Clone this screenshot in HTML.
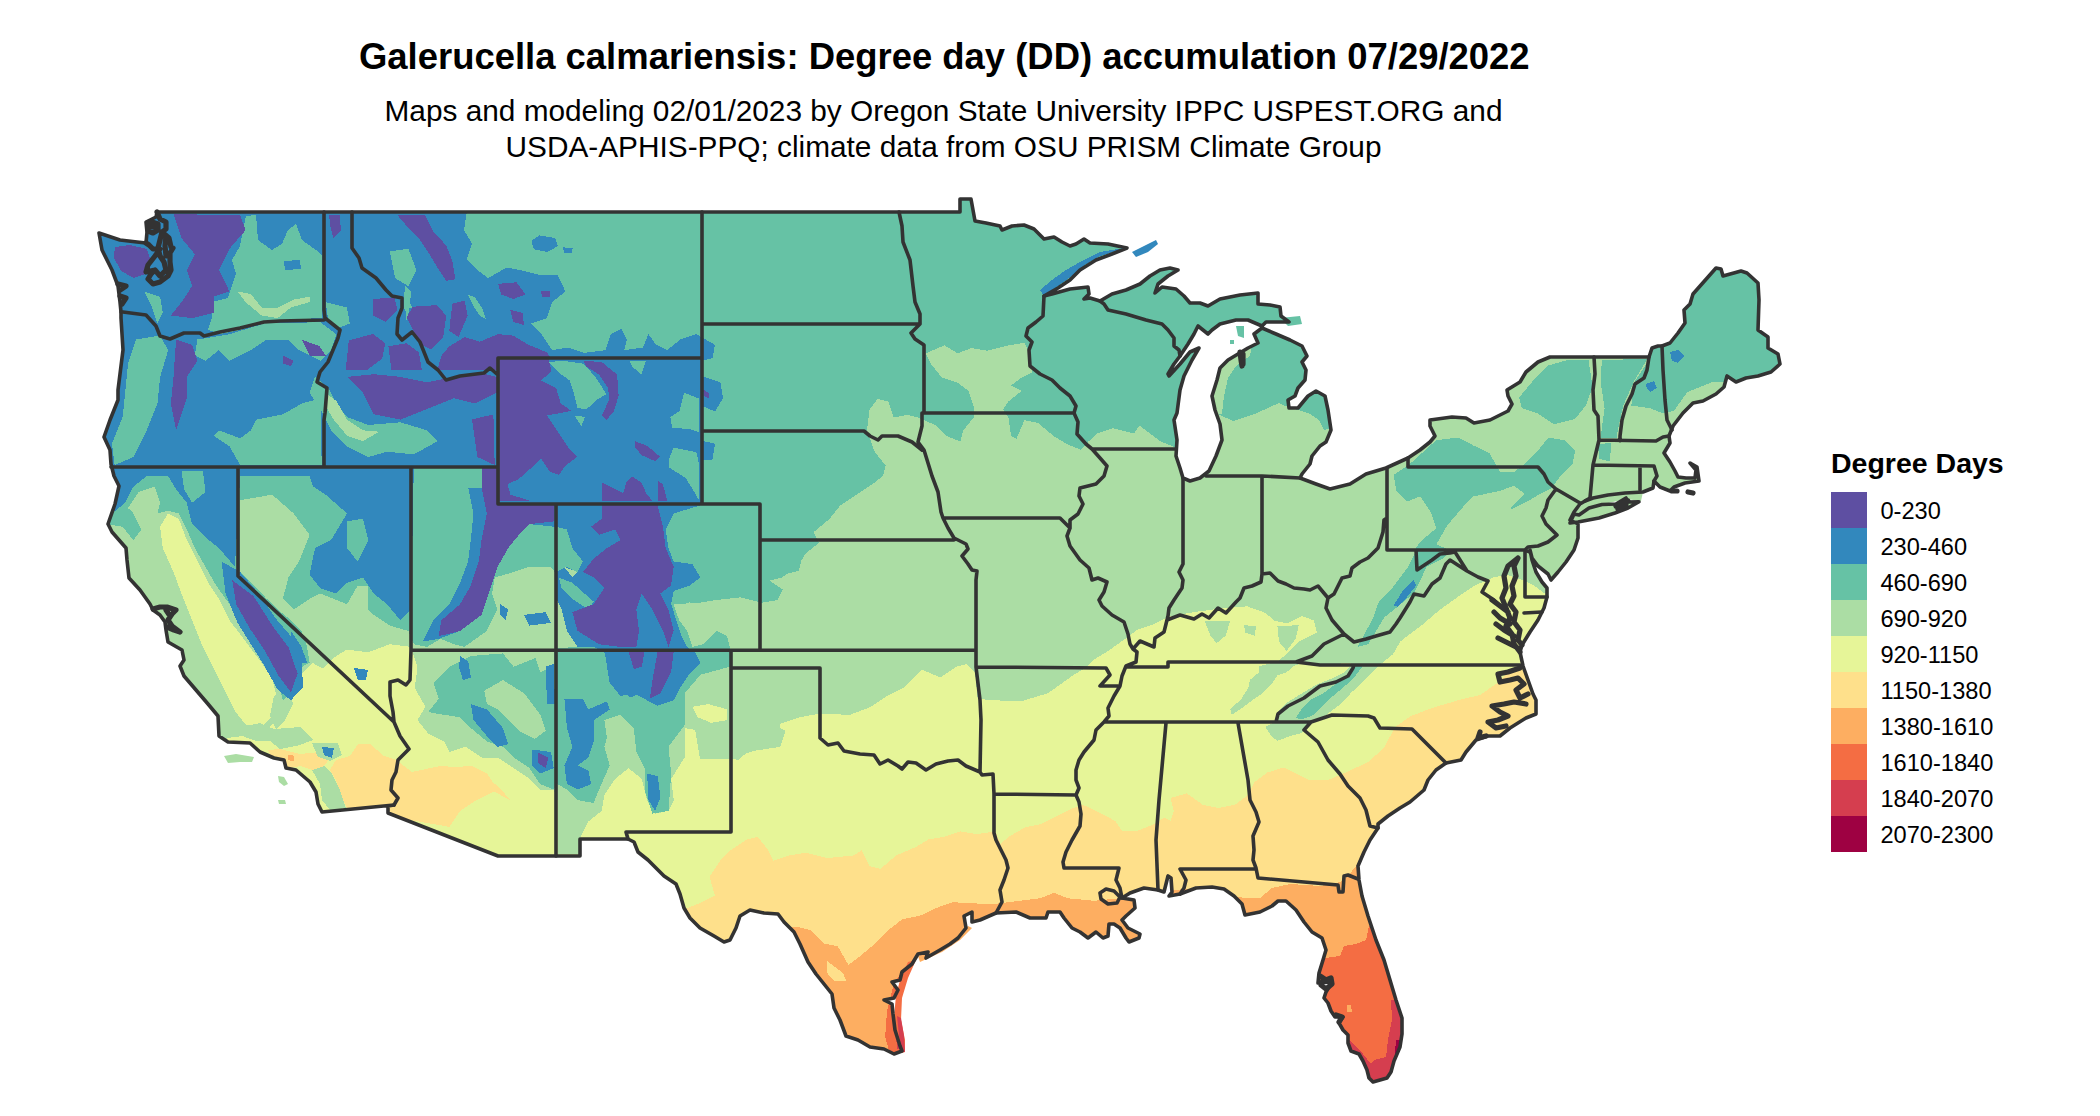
<!DOCTYPE html>
<html lang="en"><head><meta charset="utf-8"><title>Galerucella calmariensis: Degree day (DD) accumulation 07/29/2022</title>
<style>
html,body{margin:0;padding:0;background:#fff;}
body{width:2100px;height:1116px;position:relative;overflow:hidden;font-family:"Liberation Sans",sans-serif;color:#000;}
.title{position:absolute;left:0.8px;width:1887px;top:36px;text-align:center;font-weight:bold;font-size:36.45px;line-height:42px;white-space:nowrap;}
.sub{position:absolute;left:0;width:1887px;top:92.5px;text-align:center;font-size:29.8px;line-height:36px;white-space:nowrap;}
.lt{position:absolute;left:1831px;top:446.5px;font-weight:bold;font-size:28.5px;line-height:32px;white-space:nowrap;}
.sw{position:absolute;left:1831px;width:36px;height:36px;}
.ll{position:absolute;left:1880.5px;font-size:23.6px;line-height:36px;height:36px;white-space:nowrap;}
svg{position:absolute;left:0;top:0;}
</style></head><body>
<div class="title">Galerucella calmariensis: Degree day (DD) accumulation 07/29/2022</div>
<div class="sub">Maps and modeling 02/01/2023 by Oregon State University IPPC USPEST.ORG and<br>USDA-APHIS-PPQ; climate data from OSU PRISM Climate Group</div>
<div class="lt">Degree Days</div>
<div class="sw" style="top:492px;background:#5E4FA2"></div><div class="ll" style="top:493px">0-230</div>
<div class="sw" style="top:528px;background:#3288BD"></div><div class="ll" style="top:529px">230-460</div>
<div class="sw" style="top:564px;background:#66C2A5"></div><div class="ll" style="top:565px">460-690</div>
<div class="sw" style="top:600px;background:#ABDDA4"></div><div class="ll" style="top:601px">690-920</div>
<div class="sw" style="top:636px;background:#E6F598"></div><div class="ll" style="top:637px">920-1150</div>
<div class="sw" style="top:672px;background:#FEE08B"></div><div class="ll" style="top:673px">1150-1380</div>
<div class="sw" style="top:708px;background:#FDAE61"></div><div class="ll" style="top:709px">1380-1610</div>
<div class="sw" style="top:744px;background:#F46D43"></div><div class="ll" style="top:745px">1610-1840</div>
<div class="sw" style="top:780px;background:#D53E4F"></div><div class="ll" style="top:781px">1840-2070</div>
<div class="sw" style="top:816px;background:#9E0142"></div><div class="ll" style="top:817px">2070-2300</div>
<svg width="2100" height="1116" viewBox="0 0 2100 1116">
<defs><clipPath id="us"><path d="M157 212 L960 212 L960 199 L971 199 L973 210 L975 221 L986 223 L1000 226 L1002 230 L1012 226 L1024 225 L1034 229 L1040 235 L1044 239 L1054 237 L1062 242 L1070 246 L1076 244 L1084 239 L1090 243 L1108 244 L1127 248 L1112 254 L1096 260 L1080 270 L1070 280 L1058 288 L1044 296 L1052 294 L1070 289 L1088 287 L1089 294 L1084 299 L1090 298 L1100 301 L1112 294 L1126 290 L1140 284 L1150 276 L1160 270 L1170 268 L1178 270 L1168 276 L1158 284 L1155 293 L1162 287 L1176 289 L1184 296 L1190 303 L1200 303 L1208 306 L1220 299 L1240 295 L1258 293 L1258 304 L1270 305 L1280 307 L1281 316 L1289 322 L1266 322 L1262 326 L1248 320 L1236 320 L1220 324 L1212 330 L1208 334 L1198 326 L1194 334 L1188 344 L1180 356 L1174 364 L1168 374 L1169 376 L1180 364 L1190 352 L1199 348 L1192 360 L1184 376 L1180 390 L1177 413 L1174 420 L1177 440 L1176 456 L1180 468 L1183 478 L1190 481 L1200 478 L1209 471 L1216 456 L1222 440 L1220 424 L1215 410 L1212 396 L1217 380 L1220 368 L1228 360 L1238 354 L1248 348 L1258 343 L1254 334 L1262 328 L1276 334 L1290 340 L1302 346 L1307 356 L1302 362 L1306 370 L1305 380 L1298 388 L1295 396 L1288 400 L1289 408 L1298 408 L1308 396 L1316 391 L1325 396 L1328 410 L1331 430 L1326 442 L1320 446 L1312 456 L1310 464 L1302 474 L1300 478 L1316 484 L1330 489 L1350 484 L1366 474 L1386 468 L1408 458 L1420 450 L1430 442 L1435 436 L1430 426 L1430 420 L1452 417 L1466 418 L1474 423 L1490 420 L1500 415 L1508 411 L1512 404 L1508 396 L1507 390 L1520 382 L1526 372 L1538 362 L1550 357 L1649 357 L1652 348 L1658 346 L1662 346 L1670 343 L1678 333 L1685 323 L1684 310 L1690 304 L1693 294 L1716 268 L1721 269 L1723 276 L1741 271 L1747 273 L1758 283 L1759 300 L1758 330 L1768 337 L1768 348 L1778 354 L1780 364 L1771 372 L1758 376 L1746 378 L1736 382 L1727 376 L1724 387 L1716 394 L1703 401 L1693 403 L1683 413 L1673 426 L1669 436 L1670 443 L1664 453 L1670 462 L1675 471 L1678 477 L1686 478 L1695 478 L1696 470 L1690 463 L1697 467 L1699 481 L1685 483 L1674 487 L1670 491 L1660 487 L1654 481 L1653 488 L1643 492 L1625 493 L1608 495 L1593 498 L1585 501 L1580 504 L1574 512 L1570 520 L1578 524 L1578 538 L1574 550 L1566 562 L1558 572 L1551 580 L1548 574 L1538 566 L1532 558 L1530 550 L1532 560 L1536 572 L1542 582 L1547 588 L1547 597 L1544 608 L1538 620 L1530 632 L1522 645 L1520 652 L1523 666 L1528 680 L1533 694 L1536 700 L1536 714 L1526 718 L1510 728 L1500 736 L1488 736 L1476 740 L1466 752 L1461 760 L1446 763 L1436 770 L1428 780 L1424 790 L1410 802 L1400 808 L1388 816 L1378 824 L1378 828 L1370 840 L1364 852 L1358 866 L1359 880 L1362 896 L1368 916 L1376 940 L1384 960 L1390 980 L1396 1000 L1402 1018 L1402 1034 L1400 1047 L1394 1061 L1391 1072 L1387 1078 L1380 1080 L1373 1082 L1369 1078 L1367 1070 L1363 1061 L1359 1054 L1351 1051 L1348 1043 L1348 1035 L1343 1030 L1339 1023 L1343 1017 L1335 1017 L1331 1011 L1328 1003 L1324 998 L1326 992 L1332 982 L1318 983 L1319 973 L1323 960 L1326 950 L1322 938 L1312 932 L1304 922 L1296 910 L1286 901 L1278 901 L1272 906 L1260 912 L1245 915 L1242 904 L1234 896 L1224 889 L1212 887 L1196 888 L1180 894 L1169 896 L1172 892 L1171 878 L1168 876 L1164 892 L1158 890 L1144 888 L1130 893 L1122 898 L1134 900 L1135 908 L1126 916 L1122 920 L1128 928 L1140 934 L1139 938 L1129 942 L1126 938 L1120 928 L1114 924 L1109 924 L1108 936 L1103 938 L1096 932 L1088 938 L1080 932 L1072 928 L1064 918 L1060 912 L1048 912 L1046 918 L1030 918 L1016 912 L996 913 L980 920 L972 922 L972 912 L964 916 L966 928 L958 938 L950 944 L940 950 L926 958 L928 952 L918 954 L912 964 L902 972 L900 980 L892 982 L898 990 L894 998 L884 1000 L892 1004 L893 1014 L895 1030 L900 1046 L902 1051 L894 1054 L884 1049 L870 1047 L858 1040 L846 1036 L840 1020 L834 1008 L832 994 L824 984 L816 974 L808 962 L800 944 L794 932 L784 922 L778 914 L764 913 L750 910 L740 916 L736 928 L730 940 L724 942 L714 936 L700 928 L690 918 L684 908 L680 894 L676 884 L664 876 L656 868 L648 860 L638 852 L634 842 L628 839 L580 839 L580 856 L498 856 L388 813 L388 806 L394 805 L322 812 L318 804 L316 792 L310 782 L296 770 L286 768 L284 760 L274 758 L260 752 L250 743 L228 742 L219 736 L218 716 L208 704 L196 690 L184 676 L180 666 L184 660 L182 650 L168 642 L166 630 L165 622 L160 615 L153 610 L150 604 L140 590 L129 578 L127 560 L126 548 L112 532 L108 524 L115 504 L119 486 L114 476 L111 464 L110 450 L104 437 L110 420 L118 400 L118 390 L123 350 L121 318 L121 312 L120 302 L118 286 L112 270 L102 250 L99 233 L120 240 L137 242 L146 243 L147 232 L146 222 L152 219 L156 217Z M1574 514 L1579 515 L1589 508 L1602 504.5 L1616 504 L1626 498 L1628 502 L1639 501.7 L1628 508 L1615 513 L1599 518 L1578 522 L1570 523Z"/></clipPath></defs>
<g clip-path="url(#us)" shape-rendering="crispEdges">
<rect x="90" y="190" width="1710" height="910" fill="#E6F598"/>
<path fill="#FEE08B" d="M685.5 908.9 L698.9 903.5 L714.9 895.5 L709.5 876.8 L720.2 860.8 L730.9 850.1 L746.9 839.4 L757.6 836.8 L768.3 850.1 L773.6 860.8 L789.6 855.4 L805.7 852.8 L827 858.1 L853.7 855.4 L861.7 850.1 L869.7 866.1 L880.4 868.8 L896.4 855.4 L915.1 847.4 L928.5 839.4 L944.5 836.8 L960.5 831.4 L976.6 834.1 L995.2 831.4 L1000.5 843.6 L1008.6 837 L1024.8 827.4 L1041 824 L1057 816 L1073 808 L1083 804.8 L1096 811 L1105.7 816 L1115.4 821 L1122 830.7 L1138 830.7 L1154.3 824 L1164 817.7 L1170.5 821 L1173.7 811 L1170.5 798 L1186.7 793.4 L1202.9 804.8 L1219 808 L1235 804.8 L1248 795 L1254.7 782 L1267.6 772.4 L1283.8 767.5 L1293 772 L1309 780 L1328 780 L1347 772 L1368 762 L1384 748 L1395 727 L1411 716 L1432 708 L1459 700 L1480 695 L1496 684 L1507 673 L1520 668 L1545 660 L1620 700 L1620 1110 L600 1110 L600 915Z"/>
<path fill="#FDAE61" d="M787 926.2 L800.3 927.5 L811 930.2 L824.4 943.6 L837.7 946.2 L848.4 964.9 L859.1 956.9 L875.1 943.6 L888.4 930.2 L901.8 919.5 L920.5 915.5 L933.8 908.9 L952.5 902.2 L976.6 903.5 L997.9 903.5 L1019.3 900.8 L1040.6 898.2 L1054 892.8 L1067.3 898.2 L1094 900.8 L1119.9 898.2 L1160 891 L1200 888 L1235 897 L1248 898 L1260 898 L1272 888 L1290 884 L1320 886 L1340 882 L1348 876 L1356 866 L1362 856 L1380 848 L1500 900 L1500 1110 L760 1110 L760 925Z"/>
<path fill="#FEE08B" d="M827 960.9 L843 972.9 L846.2 980.9 L835 981.5 L827 972.9Z M850.5 928.9 L856.9 929.7 L854.3 940.9 L851.1 938.2Z"/>
<path fill="#F46D43" d="M916.5 955.6 L929.8 960.9 L915.1 983.6 L904.5 1005 L900.5 1026.3 L905.8 1054.4 L891.1 1058.4 L885.2 1037 L887.1 1010.3 L893.8 983.6 L904.5 967.6Z M1318 959 L1340 956 L1344 946 L1356 944 L1366 940 L1369 926 L1374 922 L1382 950 L1410 1000 L1420 1100 L1330 1100 L1316 990Z"/>
<path fill="#D53E4F" d="M894.3 1010.3 L899.7 1015.7 L904.5 1049 L897 1049Z M1391 1000 L1392 1020 L1388 1040 L1386 1057 L1374 1060 L1371 1064 L1363 1054 L1355 1046 L1349 1040 L1340 1045 L1360 1095 L1420 1095 L1420 1000Z"/>
<path fill="#9E0142" d="M1396 1040 L1410 1040 L1410 1090 L1376 1090 L1380 1084 L1388 1078 L1394 1065Z"/>
<path fill="#FDAE61" d="M1347 1005 L1351 1005 L1352 1012 L1347 1012Z"/>
<path fill="#ABDDA4" d="M700 758.9 L732 758.9 L753.4 750.9 L780.1 746.9 L785.4 730.9 L774.8 725.6 L798.8 717.5 L820.2 713.5 L849.5 714.9 L870.9 706.9 L886.9 696.2 L902.9 688.2 L913.6 677.5 L921.6 669.5 L940.3 677.5 L956.3 666.8 L967 664.1 L975 672.1 L977.7 698.9 L993.7 700.2 L1020.4 701.5 L1047.1 693.5 L1055.1 688.2 L1073.8 674.8 L1087.2 666.8 L1095.2 658.8 L1108.5 650.8 L1127.2 637.4 L1137.9 629.4 L1153.9 624.1 L1170 616.1 L1194 612.1 L1223.4 608.1 L1259.9 605.4 L1244 605.2 L1265.3 612.8 L1274.4 620.5 L1286.6 623.5 L1301.8 615.9 L1314 620.5 L1317 632.6 L1298.8 641.8 L1286.6 654 L1277.5 661.6 L1259.2 666.1 L1259.2 672.2 L1250 679.8 L1248.5 687.5 L1240.9 699.6 L1230.3 708.8 L1231.8 714.9 L1240.9 708.8 L1253.1 699.6 L1262.2 693.5 L1271.4 684.4 L1277.5 675.3 L1286.6 672.2 L1295.7 664.6 L1314 663.9 L1332.3 663.9 L1350.5 663.1 L1350.5 666.1 L1344.5 672.2 L1332.3 678.3 L1317 684.4 L1301.8 693.5 L1286.6 702.7 L1277.5 711.8 L1274.4 722.5 L1265.3 727 L1271.4 736.2 L1277.5 740.8 L1289.6 736.2 L1301.8 733.1 L1311 724 L1314 722.5 L1326.2 714.9 L1338.4 705.7 L1350.5 693.5 L1365.8 678.3 L1378 666.1 L1393.2 654 L1400.2 641.5 L1421.6 625.4 L1440.3 609.4 L1459 596.1 L1475 585.4 L1493.7 577.4 L1507 574.7 L1523 580.1 L1533.7 585.4 L1544.4 593.4 L1560.4 593.4 L1800 590 L1800 190 L690 190 L690 700Z"/>
<path fill="#ABDDA4" d="M1204.4 620.5 L1230.3 620.5 L1225.7 635.7 L1216.5 643.3 L1210.5 635.7Z M1244 625 L1256.1 626.5 L1254.6 635.7 L1245.5 632.6Z M1277.5 626.5 L1298.8 625 L1295.7 638.7 L1286.6 650.9 L1279 641.8Z"/>
<path fill="#ABDDA4" d="M60 180 L780 180 L780 745 L753.9 746.8 L737.9 760.2 L729.9 757.5 L729.9 741.5 L716.6 736.1 L700.5 730.8 L684.5 728.1 L684.5 757.5 L671.2 778.9 L673.8 800.2 L668.5 810.9 L655.1 813.6 L647.1 800.2 L641.8 778.9 L628.4 768.2 L615.1 778.9 L604.4 794.9 L601.7 810.9 L588.4 821.6 L580.4 837.6 L580.4 853.6 L557.7 853.6 L557.7 800.2 L553.7 789.5 L540.3 789.5 L529.6 778.9 L513.6 768.2 L497.6 757.5 L481.6 757.5 L465.6 746.8 L449.5 752.1 L444.2 741.5 L428.2 733.5 L417.5 720.1 L425.5 706.8 L414.8 688.1 L417.5 666.7 L412.1 650.7 L411.1 646.9 L389.7 644.2 L368.4 652.3 L347 649.6 L333.7 657.6 L323 668.3 L312.3 662.9 L301.6 673.6 L293.6 689.6 L285.6 705.7 L277.6 719 L266.9 729.7 L250.9 735 L229.5 737.7 L213.5 743 L60 760Z"/>
<path fill="#E6F598" d="M168.1 513.4 L178.8 518.7 L186.8 540.1 L197.5 561.5 L208.2 582.8 L218.9 598.9 L229.5 620.2 L245.6 641.6 L261.6 662.9 L272.3 679 L277.6 700.3 L272.3 716.3 L261.6 727 L245.6 724.4 L234.9 711 L224.2 689.6 L213.5 668.3 L202.8 646.9 L192.1 620.2 L181.5 593.5 L173.5 572.1 L162.8 548.1 L160.1 526.8Z M692.5 706.8 L708.5 704.1 L727.2 709.4 L727.2 720.1 L711.2 722.8 L697.9 717.4Z"/>
<path fill="#FEE08B" d="M268 750 L280 749 L300 754 L320 752 L330 758 L324 766 L312 770 L300 766 L290 768 L280 760 L272 758Z M336 760 L350 756 L358 744 L370 744 L384 756 L396 760 L412 772 L440 766 L470 768 L490 780 L500 788 L510 800 L449.5 768.2 L470.9 765.5 L486.9 773.5 L497.6 789.5 L476.2 800.2 L460.2 810.9 L449.5 826.9 L388.1 816.2 L388 812 L348 809 L340 796 L336 780 L330 770Z"/>
<path fill="#FDAE61" d="M288 755 L294.4 755.6 L293.6 761.2 L288 760Z"/>
<path fill="#ABDDA4" d="M312 770 L324 766 L332 774 L340 790 L346 808 L330 810 L322 800 L320 784Z M312 743 L338 743 L342 755 L330 761 L318 757Z M238 728 L260 723 L274 729 L300 727 L313 740 L300 745 L280 749 L270 741 L256 741 L244 737Z M274 696 L288 686 L293 704 L285 720 L276 729 L270 716Z"/>
<path fill="#66C2A5" d="M700 602.7 L716 600.1 L740.1 597.4 L761.4 602.7 L777.4 600.1 L782.8 589.4 L766.8 578.7 L798.8 570.7 L801.5 560 L760.1 583 L781.5 577.7 L797.5 567 L805.5 553.7 L818.9 543 L813.5 532.3 L829.5 519 L840.2 505.6 L856.2 494.9 L872.3 484.2 L882.9 476.2 L885.6 465.6 L874.9 452.2 L866.9 430.8 L869.6 409.5 L877.6 398.8 L888.3 401.5 L893.6 417.5 L907 414.8 L917.7 417.5 L936.3 425.5 L947 436.2 L960.4 441.5 L963 430.8 L973.7 417.5 L973.7 406.8 L968.4 390.8 L957.7 382.8 L941.7 377.4 L931 364.1 L925.7 353.4 L944.4 345.4 L957.7 353.4 L971.1 348.1 L987.1 350.7 L1008.4 345.4 L1024.5 342.7 L1029.8 353.4 L1032.5 372.1 L1021.8 377.4 L1011.1 385.4 L1021.8 390.8 L1008.4 401.5 L1003.1 409.5 L1008.4 417.5 L1011.1 436.2 L1016.4 438.9 L1024.5 420.2 L1037.8 422.8 L1053.8 436.2 L1067.2 444.2 L1080.5 449.5 L1088.5 441.5 L1096.6 433.5 L1112.6 428.2 L1133.9 433.5 L1139.3 425.5 L1150 433.5 L1160.6 441.5 L1174 446.9 L1200 447 L1222 366 L1226 380 L1222 400 L1218 414 L1233 421 L1257 413 L1279 403 L1290 408 L1298 410 L1310 414 L1319 420 L1324 430 L1340 426 L1340 190 L690 190 L690 603Z"/>
<path fill="#66C2A5" d="M1393.6 474.9 L1409.6 464.2 L1436.3 440.2 L1457.7 437.5 L1473.7 445.6 L1489.7 453.6 L1500.4 472.3 L1513.8 472.3 L1524.5 464.2 L1537.8 450.9 L1548.5 437.5 L1564.5 440.2 L1575.2 450.9 L1572.5 464.2 L1559.2 477.6 L1551.2 488.3 L1540.5 493.6 L1527.1 501.6 L1511.1 509.6 L1511.1 507 L1524.5 493.6 L1513.8 485.6 L1500.4 490.9 L1473.7 496.3 L1463 507 L1447 525.7 L1436.3 544.4 L1428.3 552.4 L1415 549.7 L1420.3 541.7 L1436.3 528.3 L1431 512.3 L1420.3 496.3 L1407 501.6 L1396.3 490.9Z M1519.1 397.5 L1532.5 381.5 L1548.5 365.4 L1567.2 360.1 L1588.5 360.1 L1592.6 386.8 L1585.9 405.5 L1575.2 418.9 L1553.8 424.2 L1537.8 413.5 L1521.8 408.2Z M1601.9 360.1 L1647.3 358.8 L1633.9 381.5 L1623.3 405.5 L1617.9 429.5 L1616.6 437.5 L1600.6 437.5 L1604.6 408.2 L1600.6 381.5Z M1646 344.1 L1650 358.8 L1633.9 382.8 L1631.3 405.5 L1650 408.2 L1663.3 413.5 L1674 410.8 L1687.3 392.1 L1700.7 386.8 L1714 381.5 L1727.4 382.8 L1735.4 394.8 L1794.2 394.8 L1794.2 266.6 L1700.7 266.6 L1674 333.4Z M1597.9 444.2 L1611.2 442.9 L1609.9 461.6 L1599.2 458.9Z"/>
<path fill="#66C2A5" d="M1357.5 646.8 L1373.5 617.4 L1378.9 601.4 L1392.2 588.1 L1408.2 566.7 L1416.2 550.7 L1426.9 540 L1450.9 550.7 L1442.9 558.7 L1426.9 566.7 L1413.6 593.4 L1397.5 606.8 L1384.2 617.4 L1368.2 644.1Z M1353.6 664.6 L1362.7 666.1 L1353.6 678.3 L1341.4 689 L1332.3 696.6 L1323.1 705.7 L1314 714.9 L1301.8 719.4 L1295.7 717.9 L1301.8 708.8 L1311 699.6 L1323.1 693.5 L1335.3 684.4 L1346 675.3 L1352.1 669.2Z"/>
<path fill="#66C2A5" d="M106.7 524.1 L122.7 526.8 L133.4 540.1 L141.4 529.4 L133.4 513.4 L128.1 508.1 L138.7 492 L154.8 486.7 L160.1 502.7 L157.4 513.4 L168.1 510.7 L178.8 513.4 L186.8 529.4 L194.8 548.1 L205.5 566.8 L216.2 585.5 L229.5 604.2 L240.2 620.2 L250.9 636.2 L266.9 657.6 L277.6 679 L282.9 700.3 L293.6 689.6 L299 668.3 L309.6 662.9 L307 646.9 L301.6 630.9 L290.9 620.2 L277.6 609.5 L266.9 598.9 L250.9 582.8 L240.2 572.1 L240.2 500.1 L272.3 494.7 L293.6 513.4 L309.6 534.8 L299 561.5 L288.3 577.5 L282.9 598.9 L293.6 609.5 L309.6 598.9 L320.3 593.5 L347 604.2 L357.7 585.5 L368.4 585.5 L368.4 609.5 L373.7 614.9 L389.7 625.6 L408.4 630.9 L413.8 644.2 L427.1 646.9 L440.5 638.9 L453.8 644.2 L464.5 646.9 L486.8 630.9 L497.5 609.5 L492.1 593.5 L494.8 577.5 L513.5 572.1 L529.5 566.8 L550.9 566.8 L554.9 572.1 L558.9 577.5 L572.3 582.8 L593.6 601.5 L588.3 609.5 L572.3 604.2 L566.9 620.2 L572.3 630.9 L577.6 646.9 L554.9 648.3 L553.7 653.4 L540.3 656 L513.6 666.7 L502.9 653.4 L470.9 656 L449.5 666.7 L433.5 682.7 L438.9 698.7 L428.2 712.1 L444.2 714.8 L460.2 717.4 L470.9 728.1 L486.9 741.5 L502.9 746.8 L513.6 757.5 L529.6 768.2 L540.3 784.2 L553.7 789.5 L557.7 784.2 L567 789.5 L577.7 800.2 L593.7 802.9 L599.1 789.5 L609.7 765.5 L604.4 746.8 L609.7 728.1 L620.4 720.1 L631.1 741.5 L644.5 768.2 L644.5 789.5 L652.5 813.6 L668.5 810.9 L671.2 773.5 L668.5 746.8 L684.5 725.4 L684.5 693.4 L700.5 674.7 L729.9 666.7 L729.9 650.7 L729.8 646.9 L727.1 636.2 L716.4 630.9 L703.1 644.2 L692.4 646.9 L687.1 630.9 L679.1 620.2 L673.7 604.2 L684.4 604.2 L700.4 598.9 L721.8 596.2 L722 180 L60 180 L60 520Z"/>
<path fill="#ABDDA4" d="M484.2 690.7 L502.9 680.1 L524.3 693.4 L540.3 714.8 L545.7 730.8 L535 738.8 L519 730.8 L508.3 720.1 L497.6 709.4 L486.9 704.1Z M604.4 720.1 L620.4 714.8 L633.8 728.1 L636.4 752.1 L628.4 768.2 L617.8 773.5 L609.7 757.5Z M535 656 L553.7 653.4 L553.7 666.7 L540.3 672Z M564.2 566.8 L577.6 572.1 L572.3 577.5Z M237.5 291.5 L250.9 294.1 L261.6 307.5 L277.6 307.5 L293.6 299.5 L309.6 296.8 L309.6 302.1 L290.9 307.5 L277.6 318.2 L261.6 315.5 L245.6 302.1Z M325.7 392.9 L336.3 400.9 L347 419.6 L363 430.3 L379.1 431.7 L363 441 L347 435.7 L333.7 419.6 L325.7 406.3Z"/>
<path fill="#ABDDA4" d="M1218 360 L1232 352 L1252 346 L1250 356 L1236 366 L1228 378 L1224 396 L1222 414 L1212 414 L1212 396 L1216 380Z"/>
<path fill="#3288BD" d="M1393.5 605.4 L1402.9 590.7 L1413.6 580.1 L1416.2 585.4 L1405.6 598.7 L1397.5 606.8Z"/>
<path fill="#3288BD" d="M60 180 L466.7 212.7 L464 230.1 L472 243.4 L466.7 259.4 L477.4 270.1 L488.1 278.1 L506.8 267.4 L520.1 270.1 L541.5 275.4 L557.5 275.4 L565.5 291.5 L552.1 302.1 L546.8 318.2 L530.8 323.5 L541.5 334.2 L552.1 350.2 L568.2 347.5 L584.2 352.9 L605.6 350.2 L610.9 334.2 L621.6 328.9 L626.9 339.5 L624.2 350.2 L642.9 347.5 L648.3 334.2 L656.3 344.9 L667 350.2 L680.3 339.5 L696.3 334.2 L715 344.9 L712.4 358.2 L701.7 360.9 L703 376.9 L720.4 382.3 L723 398.3 L715 411.6 L703 406.3 L703 441 L715 443.7 L712.4 459.7 L703 459.7 L700.4 505.4 L673.7 513.4 L665.7 529.4 L668.4 548.1 L673.7 561.5 L692.4 564.1 L700.4 577.5 L689.7 585.5 L673.7 590.8 L671.1 604.2 L676.4 620.2 L681.7 636.2 L687.1 646.9 L695.1 652.3 L700.4 662.9 L689.7 673.6 L679.1 689.6 L673.7 700.3 L657.7 705.7 L647 700.3 L641.7 692.3 L631 697.7 L620.3 689.6 L609.6 673.6 L604.3 652.3 L593.6 646.9 L577.6 646.9 L566.9 630.9 L561.6 609.5 L556.2 598.9 L554.9 526.8 L529.5 524.1 L518.9 534.8 L508.2 548.1 L497.5 566.8 L492.1 582.8 L486.8 598.9 L481.5 614.9 L460.1 630.9 L438.7 638.9 L422.7 641.6 L433.4 620.2 L449.4 604.2 L460.1 582.8 L468.1 561.5 L470.8 540.1 L473.5 513.4 L468.1 486.7 L470.8 468 L413.8 468 L411.1 609.5 L400.4 620.2 L387.1 604.2 L373.7 593.5 L363 577.5 L347 582.8 L336.3 593.5 L320.3 588.2 L309.6 574.8 L315 548.1 L331 540.1 L347 513.4 L325.7 494.7 L309.6 484 L282.9 476 L240.2 476 L234.9 566.8 L218.9 548.1 L205.5 537.4 L192.1 524.1 L186.8 502.7 L176.1 489.4 L168.1 476 L146.8 476 L133.4 486.7 L125.4 502.7 L112 513.4 L96 524.1Z M221.5 561.5 L240.2 572.1 L258.9 593.5 L274.9 617.5 L290.9 636.2 L301.6 657.6 L303 687 L290.9 700.3 L277.6 689.6 L264.2 665.6 L250.9 644.2 L237.5 622.9 L225.5 593.5Z"/>
<path fill="#66C2A5" d="M246 216 L256 215 L258 240 L272 250 L282 244 L288 230 L296 224 L302 240 L316 250 L322 256 L322 318 L300 319 L280 320 L260 324 L240 330 L220 334 L208 330 L212 318 L212 302 L228 298 L232 286 L236 274 L232 260 L240 246Z M144.1 291.5 L160.1 296.8 L162.8 312.8 L157.4 323.5 L152.1 307.5Z M136.1 339.5 L160.1 335.5 L168.1 350.2 L160.1 376.9 L157.4 403.6 L146.8 430.3 L133.4 457 L114.7 465 L112 443.7 L122.7 417 L125.4 390.3 L128.1 363.6Z M197.5 339.5 L229.5 334.2 L264.2 323.5 L320.3 322.2 L336.3 334.2 L331 350.2 L320.3 360.9 L299 350.2 L288.3 339.5 L266.9 339.5 L250.9 350.2 L229.5 360.9 L218.9 350.2 L205.5 360.9 L194.8 355.6Z M315 376.9 L328.3 387.6 L336.3 403.6 L347 417 L368.4 425 L400.4 422.3 L427.1 430.3 L437.8 441 L413.8 454.4 L387.1 451.7 L368.4 457 L347 446.3 L331 430.3 L320.3 409 L309.6 392.9Z M256.2 419.6 L282.9 414.3 L301.6 403.6 L320.3 398.3 L321.7 465 L240.2 465 L229.5 446.3 L213.5 435.7 L218.9 430.3 L240.2 438.3 L250.9 430.3Z M325.7 302.1 L347 307.5 L349.7 323.5 L336.3 328.9 L328.3 320.8Z M389.7 251.4 L408.4 248.7 L416.4 270.1 L408.4 286.1 L395.1 278.1Z M404.4 291.5 L412.4 307.5 L404.4 308.8Z M440 467.7 L493.4 467.7 L493.4 488 L440 488Z M556.2 526.8 L566.9 529.4 L572.3 548.1 L582.9 561.5 L577.6 572.1 L566.9 566.8 L556.2 572.1Z M558.9 577.5 L572.3 582.8 L593.6 601.5 L588.3 609.5 L572.3 598.9 L561.6 588.2Z M181.5 470.7 L202.8 470.7 L205.5 492 L192.1 502.7 L184.1 489.4Z M266.9 476 L309.6 476 L315 492 L293.6 494.7 L272.3 492Z M347 521.4 L363 518.7 L368.4 540.1 L357.7 561.5 L347 548.1Z"/>
<path fill="#66C2A5" d="M548.6 362.2 L562.3 360.7 L583.6 363.7 L595.8 377.4 L606.4 394.2 L595.8 400.3 L586.6 409.4 L577.5 407.9 L574.5 395.7 L569.9 380.5 L559.2 372.9Z M574.5 415.5 L585.1 417 L581.3 426.2Z M629.3 360.7 L646.1 360.7 L641.5 374.4 L632.3 366.8Z M684.1 392.7 L699.4 398.8 L699.4 432.3 L690.2 429.2 L672 427.7 L670.4 417 L679.6 410.9Z M673.5 447.5 L696.3 452.1 L699.4 465.8 L699.4 500.8 L693.3 490.2 L685.7 478 L668.9 467.3 L668.9 459.7Z"/>
<path fill="#66C2A5" d="M394.5 251.8 L406.7 250.3 L409.7 261 L405.1 271.6 L397.5 267Z M405.1 285.3 L411.2 291.4 L409.7 306.7 L406.7 321.9 L405.1 306.7Z M467.6 294.5 L475.2 297.5 L482.9 309.7 L485.9 318.9 L479.8 315.8 L473.7 306.7Z"/>
<path fill="#ABDDA4" d="M237.5 291.5 L250.9 294.1 L261.6 307.5 L277.6 307.5 L293.6 299.5 L309.6 296.8 L309.6 302.1 L290.9 307.5 L277.6 318.2 L261.6 315.5 L245.6 302.1Z M325.7 392.9 L336.3 400.9 L347 419.6 L363 430.3 L379.1 431.7 L363 441 L347 435.7 L333.7 419.6 L325.7 406.3Z M564.2 566.8 L577.6 572.1 L572.3 577.5Z"/>
<path fill="#3288BD" d="M284 261 L300 260 L301 269 L285 270Z"/>
<path fill="#3288BD" d="M531.3 240.7 L539.3 235.4 L555.3 238.1 L558 246.1 L547.3 251.9 L533.9 249.3Z M563.3 247.4 L572.7 248.2 L571.9 253 L563.8 252.5Z M704.4 376.9 L720.4 382.3 L723 398.3 L715 411.6 L704.4 406.3Z M460.2 656 L468.2 661.4 L470.9 677.4 L462.9 680.1 L458.9 666.7Z M470.9 704.1 L486.9 709.4 L502.9 728.1 L508.3 744.1 L497.6 746.8 L486.9 736.1 L473.6 720.1Z M532.3 749.5 L551 752.1 L553.7 768.2 L540.3 773.5 L532.3 765.5Z M545.7 666.7 L553.7 664 L555 704.1 L547 704.1Z M604.4 650.7 L689.9 650.7 L687.2 674.7 L668.5 688.1 L655.1 704.1 L644.5 698.7 L633.8 693.4 L620.4 696.1 L609.7 682.7Z M564.4 698.7 L583 698.7 L588.4 709.4 L607.1 701.4 L609.7 709.4 L593.7 720.1 L593.7 741.5 L588.4 757.5 L577.7 765.5 L588.4 770.8 L591.1 784.2 L577.7 789.5 L567 784.2 L564.4 765.5 L572.4 746.8 L567 728.1Z M647.1 773.5 L657.8 776.2 L660.5 797.5 L655.1 810.9 L648.5 800.2Z M290.9 630.9 L301.6 646.9 L307 662.9 L299 662.9 L290.9 646.9Z M524.2 614.9 L545.6 612.2 L550.9 622.9 L529.5 625.6Z M500.2 604.2 L508.2 609.5 L505.5 620.2 L500.2 614.9Z M322 747 L334 748 L332 758 L324 755Z M354 668 L368 670 L366 680 L358 680Z M1044 296 L1058 286 L1072 276 L1086 264 L1100 256 L1124 248 L1100 252 L1080 262 L1066 270 L1052 280 L1040 290Z"/>
<path fill="#3288BD" d="M1670 352 L1678 350 L1684 356 L1678 363 L1672 361Z M1646 384 L1654 381 L1657 388 L1650 392 L1647 389Z"/>
<path fill="#5E4FA2" d="M115 247 L130 245 L147 249 L150 259 L147.6 273 L134 278 L121 271 L113.6 257Z M173.5 214 L240.2 215.4 L245.6 230.1 L229.5 248.7 L218.9 270.1 L229.5 291.5 L213.5 296.8 L213.5 312.8 L192.1 318.2 L170.8 315.5 L181.5 302.1 L192.1 286.1 L186.8 270.1 L194.8 254.1 L181.5 238.1Z M176.1 339.5 L192.1 344.9 L197.5 360.9 L186.8 376.9 L186.8 398.3 L176.1 430.3 L170.8 403.6 L173.5 376.9Z M301.6 339.5 L320.3 347.5 L325.7 355.6 L309.6 355.6Z M282.9 355.6 L293.6 360.9 L290.9 366.2 L282.9 363.6Z M472 419.6 L493.4 414.3 L494.7 465 L477.4 457Z M481.5 468 L497.5 468 L497.5 502.7 L553.6 504.1 L553.6 521.4 L529.5 524.1 L518.9 534.8 L508.2 548.1 L497.5 566.8 L492.1 582.8 L486.8 598.9 L481.5 614.9 L460.1 630.9 L438.7 636.2 L441.4 620.2 L460.1 604.2 L470.8 585.5 L478.8 561.5 L481.5 540.1 L486.8 513.4 L481.5 486.7Z M601.6 505.4 L657.7 505.4 L663 526.8 L665.7 548.1 L673.7 566.8 L671.1 585.5 L660.4 593.5 L668.4 609.5 L673.7 630.9 L668.4 646.9 L663 630.9 L652.4 609.5 L641.7 593.5 L636.3 609.5 L639 630.9 L636.3 646.9 L620.3 646.9 L599 644.2 L577.6 630.9 L572.3 612.2 L593.6 604.2 L604.3 588.2 L593.6 577.5 L582.9 572.1 L593.6 558.8 L607 548.1 L620.3 540.1 L615 529.4 L599 534.8 L590.9 526.8 L601.6 518.7Z M628.4 650.7 L644.5 650.7 L641.8 666.7 L633.8 669.4Z M657.8 650.7 L673.8 650.7 L671.2 672 L660.5 693.4 L649.8 698.7 L652.5 680.1Z M537.7 752.1 L548.3 757.5 L545.7 768.2 L537.7 762.8Z M232.2 580.2 L253.6 596.2 L272.3 625.6 L288.3 646.9 L297.6 673.6 L290.9 692.3 L278.9 676.3 L264.2 649.6 L249.6 628.2 L236.2 604.2Z"/>
<path fill="#5E4FA2" d="M499 359.1 L548.6 359.1 L551.6 371.3 L540.9 380.5 L556.2 388.1 L560.7 403.3 L571.4 410.9 L547 415.5 L556.2 429.2 L568.4 447.5 L577.5 456.6 L565.3 465.8 L559.2 474.9 L550.1 471.9 L540.9 458.2 L530.3 468.8 L518.1 479.5 L507.4 484.1 L510.5 494.7 L530.3 500.8 L499 500.8Z M583.6 360.7 L601.9 362.2 L617.1 374.4 L618.6 395.7 L614.1 410.9 L606.4 420.1 L601.9 415.5 L609.5 398.8 L608 388.1 L598.8 374.4 L586.6 366.8Z M635.4 441.4 L647.6 446 L659.8 456.6 L655.2 461.2 L641.5 455.1 L635.4 447.5Z M601.9 482.5 L611 487.1 L623.2 493.2 L626.3 482.5 L632.3 476.4 L641.5 482.5 L646.1 493.2 L652.2 500.8 L601.9 500.8Z M658.2 481 L662.8 484.1 L667.4 500.8 L658.2 500.8Z M703.2 389.6 L708.5 392.7 L709.3 398.8 L703.9 395.7Z"/>
<path fill="#5E4FA2" d="M397.5 215.2 L425 215.2 L432.6 230.5 L446.3 245.7 L452.4 261 L455.4 279.2 L446.3 280.8 L437.1 267 L428 251.8 L418.9 238.1 L406.7 225.9Z M329 215.2 L339.6 215.2 L341.1 230.5 L333.5 238.1 L330.5 227.4Z M498.1 283.8 L516.4 282.3 L525.5 294.5 L513.3 299 L501.1 294.5Z M540.8 291.4 L549.9 291.4 L549.9 297.5 L542.3 296.8Z M412.8 306.7 L437.1 305.1 L446.3 315.8 L443.2 337.1 L431 349.3 L418.9 343.2 L412.8 329.5 L406.7 317.3Z M452.4 303.6 L464.6 300.6 L467.6 315.8 L458.5 337.1 L449.3 331 L450.9 315.8Z M510.3 309.7 L522.5 312.8 L524 325 L513.3 321.9Z M449.3 346.3 L464.6 337.1 L479.8 341.7 L498.1 334.1 L513.3 335.6 L528.6 344.8 L546.9 352.4 L549.9 357 L496.6 357 L496.6 370.1 L437.1 370.1 L441.7 355.4Z M348.8 340.2 L373.1 334.1 L385.3 343.2 L382.3 358.5 L367 370.1 L345.7 370.1Z M388.4 346.3 L406.7 343.2 L418.9 352.4 L421.9 370.1 L391.4 370.1Z M373.1 299 L394.5 297.5 L397.5 309.7 L385.3 321.9 L373.1 315.8Z M303 340.2 L319.8 346.3 L322.9 355.4 L309.1 353.9Z M347 376.9 L373.7 374.2 L400.4 376.9 L427.1 382.3 L453.8 376.9 L485.9 374.2 L496.6 376.9 L496.6 392.9 L475.2 403.6 L453.8 398.3 L427.1 409 L400.4 419.6 L373.7 414.3 L363 392.9Z"/>
</g>
<path fill="#3288BD" d="M1132 252 L1144 246 L1156 240 L1158 244 L1148 252 L1136 257Z"/>
<path fill="#66C2A5" d="M1236 326 L1244 326 L1244 338 L1238 336Z"/>
<path fill="#66C2A5" d="M1230 340 L1234 340 L1234 344 L1230 344Z"/>
<path fill="#66C2A5" d="M1280 318 L1300 316 L1302 324 L1288 326Z"/>
<path fill="#F46D43" d="M908 962 L916 960 L908 978 L902 998 L901 1020 L905 1040 L905 1052 L902 1053 L896 1040 L894 1016 L896 996 L900 980Z"/>
<path fill="#D53E4F" d="M897 1016 L901 1018 L904 1036 L905 1052 L902 1052 L899 1036Z"/>
<path fill="#FDAE61" d="M918 956 L940 948 L958 936 L968 926 L972 928 L960 940 L942 952 L920 962Z"/>
<path fill="#ABDDA4" d="M1585 501 L1608 495 L1643 492 L1641 501 L1626 499 L1600 505 L1580 514 L1574 514Z"/>
<path fill="#ABDDA4" d="M224 756 L236 754 L254 757 L252 762 L240 762 L228 763Z"/>
<path fill="#ABDDA4" d="M278 776 L284 777 L288 784 L284 786 L279 782Z"/>
<path fill="#ABDDA4" d="M278 800 L285 800 L286 804 L279 804Z"/>
<g fill="none" stroke="#333333" stroke-width="3.6" stroke-linejoin="round" stroke-linecap="round">
<path d="M157 212 L960 212 L960 199 L971 199 L973 210 L975 221 L986 223 L1000 226 L1002 230 L1012 226 L1024 225 L1034 229 L1040 235 L1044 239 L1054 237 L1062 242 L1070 246 L1076 244 L1084 239 L1090 243 L1108 244 L1127 248 L1112 254 L1096 260 L1080 270 L1070 280 L1058 288 L1044 296 L1052 294 L1070 289 L1088 287 L1089 294 L1084 299 L1090 298 L1100 301 L1112 294 L1126 290 L1140 284 L1150 276 L1160 270 L1170 268 L1178 270 L1168 276 L1158 284 L1155 293 L1162 287 L1176 289 L1184 296 L1190 303 L1200 303 L1208 306 L1220 299 L1240 295 L1258 293 L1258 304 L1270 305 L1280 307 L1281 316 L1289 322 L1266 322 L1262 326 L1248 320 L1236 320 L1220 324 L1212 330 L1208 334 L1198 326 L1194 334 L1188 344 L1180 356 L1174 364 L1168 374 L1169 376 L1180 364 L1190 352 L1199 348 L1192 360 L1184 376 L1180 390 L1177 413 L1174 420 L1177 440 L1176 456 L1180 468 L1183 478 L1190 481 L1200 478 L1209 471 L1216 456 L1222 440 L1220 424 L1215 410 L1212 396 L1217 380 L1220 368 L1228 360 L1238 354 L1248 348 L1258 343 L1254 334 L1262 328 L1276 334 L1290 340 L1302 346 L1307 356 L1302 362 L1306 370 L1305 380 L1298 388 L1295 396 L1288 400 L1289 408 L1298 408 L1308 396 L1316 391 L1325 396 L1328 410 L1331 430 L1326 442 L1320 446 L1312 456 L1310 464 L1302 474 L1300 478 L1316 484 L1330 489 L1350 484 L1366 474 L1386 468 L1408 458 L1420 450 L1430 442 L1435 436 L1430 426 L1430 420 L1452 417 L1466 418 L1474 423 L1490 420 L1500 415 L1508 411 L1512 404 L1508 396 L1507 390 L1520 382 L1526 372 L1538 362 L1550 357 L1649 357 L1652 348 L1658 346 L1662 346 L1670 343 L1678 333 L1685 323 L1684 310 L1690 304 L1693 294 L1716 268 L1721 269 L1723 276 L1741 271 L1747 273 L1758 283 L1759 300 L1758 330 L1768 337 L1768 348 L1778 354 L1780 364 L1771 372 L1758 376 L1746 378 L1736 382 L1727 376 L1724 387 L1716 394 L1703 401 L1693 403 L1683 413 L1673 426 L1669 436 L1670 443 L1664 453 L1670 462 L1675 471 L1678 477 L1686 478 L1695 478 L1696 470 L1690 463 L1697 467 L1699 481 L1685 483 L1674 487 L1670 491 L1660 487 L1654 481 L1653 488 L1643 492 L1625 493 L1608 495 L1593 498 L1585 501 L1580 504 L1574 512 L1570 520 L1578 524 L1578 538 L1574 550 L1566 562 L1558 572 L1551 580 L1548 574 L1538 566 L1532 558 L1530 550 L1532 560 L1536 572 L1542 582 L1547 588 L1547 597 L1544 608 L1538 620 L1530 632 L1522 645 L1520 652 L1523 666 L1528 680 L1533 694 L1536 700 L1536 714 L1526 718 L1510 728 L1500 736 L1488 736 L1476 740 L1466 752 L1461 760 L1446 763 L1436 770 L1428 780 L1424 790 L1410 802 L1400 808 L1388 816 L1378 824 L1378 828 L1370 840 L1364 852 L1358 866 L1359 880 L1362 896 L1368 916 L1376 940 L1384 960 L1390 980 L1396 1000 L1402 1018 L1402 1034 L1400 1047 L1394 1061 L1391 1072 L1387 1078 L1380 1080 L1373 1082 L1369 1078 L1367 1070 L1363 1061 L1359 1054 L1351 1051 L1348 1043 L1348 1035 L1343 1030 L1339 1023 L1343 1017 L1335 1017 L1331 1011 L1328 1003 L1324 998 L1326 992 L1332 982 L1318 983 L1319 973 L1323 960 L1326 950 L1322 938 L1312 932 L1304 922 L1296 910 L1286 901 L1278 901 L1272 906 L1260 912 L1245 915 L1242 904 L1234 896 L1224 889 L1212 887 L1196 888 L1180 894 L1169 896 L1172 892 L1171 878 L1168 876 L1164 892 L1158 890 L1144 888 L1130 893 L1122 898 L1134 900 L1135 908 L1126 916 L1122 920 L1128 928 L1140 934 L1139 938 L1129 942 L1126 938 L1120 928 L1114 924 L1109 924 L1108 936 L1103 938 L1096 932 L1088 938 L1080 932 L1072 928 L1064 918 L1060 912 L1048 912 L1046 918 L1030 918 L1016 912 L996 913 L980 920 L972 922 L972 912 L964 916 L966 928 L958 938 L950 944 L940 950 L926 958 L928 952 L918 954 L912 964 L902 972 L900 980 L892 982 L898 990 L894 998 L884 1000 L892 1004 L893 1014 L895 1030 L900 1046 L902 1051 L894 1054 L884 1049 L870 1047 L858 1040 L846 1036 L840 1020 L834 1008 L832 994 L824 984 L816 974 L808 962 L800 944 L794 932 L784 922 L778 914 L764 913 L750 910 L740 916 L736 928 L730 940 L724 942 L714 936 L700 928 L690 918 L684 908 L680 894 L676 884 L664 876 L656 868 L648 860 L638 852 L634 842 L628 839 L580 839 L580 856 L498 856 L388 813 L388 806 L394 805 L322 812 L318 804 L316 792 L310 782 L296 770 L286 768 L284 760 L274 758 L260 752 L250 743 L228 742 L219 736 L218 716 L208 704 L196 690 L184 676 L180 666 L184 660 L182 650 L168 642 L166 630 L165 622 L160 615 L153 610 L150 604 L140 590 L129 578 L127 560 L126 548 L112 532 L108 524 L115 504 L119 486 L114 476 L111 464 L110 450 L104 437 L110 420 L118 400 L118 390 L123 350 L121 318 L121 312 L120 302 L118 286 L112 270 L102 250 L99 233 L120 240 L137 242 L146 243 L147 232 L146 222 L152 219 L156 217Z M1574 514 L1579 515 L1589 508 L1602 504.5 L1616 504 L1626 498 L1628 502 L1639 501.7 L1628 508 L1615 513 L1599 518 L1578 522 L1570 523Z"/>
<path d="M324 212 L324 310 L325 318 L340 330 L338 338 L328 362 L320 372 L317 382 L327 388 L325 413 L324 420 L324 467 M121 312 L123 312 L146 315 L156 326 L160 336 L170 339 L184 333 L200 333 L204 336 L220 332 L240 328 L264 322 L280 321 L324 320 M352 212 L352 248 L359 258 L362 268 L376 278 L386 290 L392 296 L402 298 L402 308 L398 318 L397 334 L402 340 L412 332 L420 342 L428 362 L438 370 L446 380 L460 376 L484 373 L490 368 L498 375 M111 467 L498 467 M238 467 L238 576 L394 722 M411 467 L411 650 L410 680 L406 685 L398 680 L390 682 L390 696 L393 712 L394 722 L400 736 L409 749 L398 760 L396 772 L392 780 L391 790 L398 798 L394 805 M411 650.3 L976 650.3 M556 504 L556 856 M498 358 L702 358 L702 504 L498 504 L498 358 M702 212 L702 358 M702 324 L920 324 M702 431 L864 431 L870 436 L878 440 L882 436 L898 436 L912 442 L922 450 M702 504 L760 504 L760 540 L954 540 M760 540 L760 650.3 M731 650.3 L731 832 L626 832 L628 839 M731 668 L820 668 L820 738 L828 745 L838 743 L844 751 L860 754 L874 755 L880 764 L888 760 L898 766 L902 769 L908 762 L916 763 L926 770 L936 764 L948 761 L958 760 L966 766 L980 772 L982 775 L993 774 L994 794 L994 833 L996 840 L1002 852 L1006 860 L1008 868 L1004 880 L1000 890 L1002 902 L996 913 M899 212 L902 226 L903 242 L910 260 L913 286 L915 302 L920 314 L920 324 L911 333 L915 339 L924 345 L924 413 M922 413 L922 426 L918 442 L924 450 L932 476 L938 492 L941 512 L943 518 L948 528 L954 538 L966 544 L968 549 L962 556 L968 564 L972 570 L977 571 L976 580 L976 667 L980 700 L981 720 L980 772 M922 413 L1074 413 M943 518 L1060 518 L1066 524 L1070 528 M1044 296 L1043 316 L1036 322 L1028 328 L1026 336 L1032 342 L1029 350 L1030 366 L1040 374 L1052 380 L1060 388 L1070 396 L1076 406 L1074 413 L1078 422 L1077 434 L1086 444 L1092 449 L1100 458 L1107 466 L1104 476 L1096 484 L1080 488 L1079 496 L1083 504 L1078 514 L1070 520 L1070 528 L1067 536 L1070 546 L1080 560 L1089 568 L1092 580 L1098 578 L1107 582 L1104 592 L1099 600 L1102 606 L1112 615 L1124 622 L1128 634 L1130 644 L1133 649 L1137 652 L1136 662 L1126 666 L1122 676 L1120 686 L1114 696 L1108 708 L1109 716 L1104 722 L1096 730 L1094 740 L1084 752 L1079 760 L1076 770 L1076 780 L1079 788 L1076 795 L1079 802 L1081 814 L1080 826 L1072 840 L1066 852 L1063 862 L1064 868 L1119 868 L1116 880 L1120 888 L1122 898 M1092 449 L1176 449 M1100 301 L1104 304 L1108 310 L1126 314 L1146 320 L1162 324 L1168 330 L1174 338 L1174 346 L1179 350 L1180 356 M1183 478 L1183 564 L1179 572 L1183 580 L1182 588 L1174 600 L1169 608 L1168 616 L1167 620 M1133 649 L1140 641 L1154 647 L1155 638 L1164 632 L1167 620 L1180 615 L1194 619 L1202 614 L1209 618 L1218 608 L1226 613 L1236 602 L1240 598 L1244 588 L1252 586 L1261 582 L1262 574 L1270 573 L1278 581 L1286 584 L1294 588 L1304 589 L1310 590 L1318 586 L1328 598 L1334 594 L1338 586 L1342 578 L1350 576 L1352 568 L1360 562 L1368 558 L1378 548 L1383 532 L1384 520 L1387 518 M1206 476 L1262 476 L1300 478 M1262 476 L1262 574 M1387 468 L1387 550 L1525 550 M1408 458 L1408 467 L1538 467 L1544 474 L1548 482 L1556 489 L1548 500 L1546 508 L1542 516 L1546 524 L1554 532 L1557 535 L1548 542 L1538 546 L1528 547 L1525 550 L1530 552 M1556 489 L1580 503 M1525 550 L1525 597 L1547 597 M1416 550 L1417 570 L1432 560 L1440 554 L1450 553 L1455 552 L1467 571 L1478 577 L1488 581 L1482 592 L1494 600 L1508 612 M1467 571 L1450 560 L1446 564 L1440 578 L1432 584 L1424 596 L1414 594 L1410 602 L1400 618 L1396 624 L1390 632 L1376 636 L1366 639 L1354 642 L1344 634 M1328 598 L1326 608 L1332 620 L1344 634 L1324 644 L1312 656 L1296 662 M1126 667 L1168 667 L1168 662 L1296 662 L1320 665 L1354 665 L1520 665 M1354 665 L1353 668 L1348 676 L1336 682 L1320 686 L1304 698 L1288 706 L1278 714 L1276 722 M1104 722 L1311 722 M1166 723 L1159 800 L1156 840 L1158 890 M1238 723 L1248 780 L1250 800 L1256 812 L1259 822 L1253 836 L1254 850 L1253 860 L1256 868 L1258 878 L1338 885 L1339 892 L1343 892 L1344 876 L1348 875 L1358 879 M1180 894 L1184 888 L1186 880 L1180 869 L1256 869 M1311 722 L1304 730 L1318 742 L1328 760 L1340 774 L1348 786 L1360 798 L1366 810 L1370 826 L1378 828 M1311 722 L1332 715 L1368 716 L1374 718 L1380 728 L1412 729 L1446 763 M976 667 L1106 668 L1110 675 L1100 686 L1118 686 M994 794 L1076 795 M1594 357 L1595 374 L1593 390 L1594 410 L1598 416 L1599 440 L1593 465 L1590 498 L1585 501 M1599 440 L1656 441 L1663 437 L1669 436 M1649 357 L1647 370 L1644 378 L1635 384 L1632 394 L1626 406 L1622 420 L1620 436 L1620 441 M1662 346 L1663 370 L1665 400 L1667 420 L1670 426 L1672 430 M1593 465 L1654 466 L1657 476 L1654 481 M1640 466 L1640 490 M1524 613 L1542 612 M1100 893 L1106 889 L1114 891 L1120 897 L1117 903 L1108 904 L1101 899 L1100 893"/>
</g>
<g fill="none" stroke="#333333" stroke-width="5.2" stroke-linejoin="round" stroke-linecap="round">
<path d="M157 212 L160 219 L166 222 L166 229 L162 232 L169 238 L171 247 L173 248 L170 253 L170 262 L171 270 L168 276 L160 282 L153 284 L148 279 L151 274 L155 270 L146 272 L148 265 L155 256 L160 249 L153 249 L149 245 L146 243 M162 232 L160 240 L158 248 L160 256 L164 262 L166 270 L160 276 L155 270 M166 236 L165 246 L166 256 M148 224 L152 222 L158 224 L158 230 L153 233 L148 231 L148 224 L153 227 L157 227 M153 609 L160 607 L167 607 L176 610 L172 614 L168 620 L172 626 L180 632 L174 630 L167 627 M166 610 L170 616 M1240 352 L1241 360 L1242 366 M1243 354 L1243 364 M1320 976 L1326 980 L1331 978 L1332 984 L1326 989 L1321 985 L1323 980 M1336 1015 L1342 1017 L1339 1022 M1616 506 L1622 503 L1628 501 M1618 509 L1626 505 M1672 491 L1677 491 M1688 492 L1693 493 M118 284 L126 286 L120 290 M120 296 L126 298 L122 304 M1518 558 L1514 566 L1516 576 L1512 586 L1514 596 L1510 604 L1516 612 L1514 622 L1520 630 L1518 640 L1522 645 M1518 558 L1508 566 L1504 576 L1506 588 L1502 598 L1506 608 L1510 618 L1506 626 L1512 634 L1514 644 L1520 652 M1508 612 L1500 606 L1492 600 M1510 624 L1500 618 L1494 612 M1514 636 L1504 630 L1496 624 M1518 648 L1506 642 L1498 638 M1520 668 L1508 672 L1498 674 L1500 682 L1510 680 L1518 678 L1524 684 L1516 690 L1520 698 L1528 694 M1526 704 L1514 702 L1504 704 L1492 706 L1500 712 L1508 716 L1498 720 L1488 722 L1496 728 L1506 726 M1480 732 L1478 738 L1486 736"/>
</g>
</svg>
</body></html>
